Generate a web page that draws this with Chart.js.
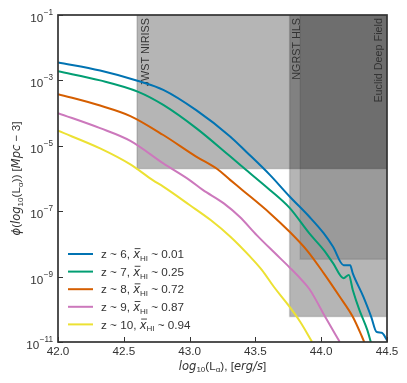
<!DOCTYPE html>
<html>
<head>
<meta charset="utf-8">
<script src="https://cdn.jsdelivr.net/npm/chart.js@4"></script>
<style>
  body { margin: 0; background: #fff; }
  #wrap { width: 407px; height: 383px; position: relative; }
</style>
</head>
<body>
<div id="wrap"><canvas id="c"></canvas></div>
<script>
// log10(L_alpha) grid and log10(phi) for each redshift
const lumZ6 = [42.00, 42.32, 42.61, 42.80, 43.05, 43.31, 43.43, 43.61, 43.76, 43.91, 44.02, 44.09, 44.17, 44.22, 44.24, 44.32, 44.38, 44.42, 44.46, 44.50];
const phiZ6 = [-2.45, -2.70, -3.02, -3.29, -3.91, -4.72, -5.18, -5.89, -6.55, -7.17, -7.68, -8.09, -8.65, -8.65, -8.90, -9.61, -10.23, -10.69, -10.72, -10.94];

const lumZ7 = [42.00, 42.32, 42.61, 42.80, 43.05, 43.31, 43.43, 43.61, 43.76, 43.91, 44.02, 44.09, 44.17, 44.21, 44.24, 44.29, 44.35, 44.38];
const phiZ7 = [-2.72, -3.00, -3.35, -3.75, -4.46, -5.33, -5.74, -6.35, -6.90, -7.68, -8.19, -8.59, -9.05, -8.95, -9.41, -10.02, -10.63, -11.04];

const lumZ8 = [42.00, 42.32, 42.55, 42.80, 43.05, 43.21, 43.31, 43.40, 43.61, 43.76, 43.89, 44.02, 44.14, 44.24, 44.31, 44.33];
const phiZ8 = [-3.42, -3.77, -4.09, -4.67, -5.33, -5.71, -6.05, -6.35, -7.06, -7.63, -8.19, -8.90, -9.61, -10.23, -10.84, -11.03];

const lumZ9 = [42.00, 42.32, 42.55, 42.80, 43.00, 43.10, 43.26, 43.38, 43.51, 43.64, 43.76, 43.84, 43.91, 44.04, 44.14];
const phiZ9 = [-4.00, -4.46, -4.85, -5.54, -6.05, -6.35, -6.76, -7.17, -7.73, -8.25, -8.72, -9.05, -9.38, -10.30, -10.99];

const lumZ10 = [42.00, 42.32, 42.55, 42.72, 42.80, 43.00, 43.16, 43.31, 43.46, 43.55, 43.64, 43.74, 43.84, 43.93];
const phiZ10 = [-4.54, -5.08, -5.57, -6.05, -6.25, -6.81, -7.27, -7.78, -8.39, -8.80, -9.31, -9.82, -10.38, -10.99];

const redshifts = [6, 7, 8, 9, 10];
const neutralFrac = ['0.01', '0.25', '0.72', '0.87', '0.94'];

// survey limits
const surveyNames = ['JWST NIRISS', 'NGRST HLS', 'Euclid Deep Field'];
const surveyLumMin = [42.6, 43.76, 43.84];
const surveyPhiMin = [2e-6, 6e-11, 3.4e-9];
const surveyLabelLum = [42.69, 43.84, 44.46];

const xTicks = [42.0, 42.5, 43.0, 43.5, 44.0, 44.5];
const yTickExp = [-1, -3, -5, -7, -9, -11];

const lineColors = ['#0173b2', '#029e73', '#d55e00', '#cc78bc', '#ece133'];
const shadeFill = ['rgba(0,0,0,0.29)', 'rgba(0,0,0,0.29)', 'rgba(0,0,0,0.15)'];
const shadeEdge = ['rgba(0,0,0,0.14)', 'rgba(0,0,0,0.14)', 'rgba(0,0,0,0.1)'];

const SANS = "'Liberation Sans', Arial, sans-serif";
const MATH = "'DejaVu Sans', sans-serif";

const lums = [lumZ6, lumZ7, lumZ8, lumZ9, lumZ10];
const phis = [phiZ6, phiZ7, phiZ8, phiZ9, phiZ10];

const datasets = redshifts.map((z, i) => ({
  label: 'z ~ ' + z,
  data: lums[i].map((l, j) => ({ x: l, y: Math.pow(10, phis[i][j]) })),
  borderColor: lineColors[i],
  backgroundColor: lineColors[i],
  fill: false
}));

// text with italic / subscript pieces
const rm = (t, s) => ({ t, f: (s || 11.7) + 'px ' + SANS });
const it = (t, s) => ({ t, f: 'italic ' + (s || 11.5) + 'px ' + MATH });
const sub = (t, s) => ({ t, f: (s || 7.8) + 'px ' + SANS, dy: 2.8 });

function richWidth(ctx, parts) {
  let w = 0;
  parts.forEach(p => { ctx.font = p.f; w += ctx.measureText(p.t).width; });
  return w;
}
function drawRich(ctx, parts, x, y) {
  parts.forEach(p => {
    ctx.font = p.f;
    ctx.fillText(p.t, x, y + (p.dy || 0));
    if (p.bar) {
      const w = ctx.measureText(p.t).width;
      ctx.fillRect(x + 1.5, y - 10, w - 1, 0.9);
    }
    x += ctx.measureText(p.t).width;
  });
  return x;
}

const xTitle = [it('log'), sub('10', 8), rm('(L'), sub('α', 8), rm('), ['), it('erg/s'), rm(']')];
const yTitle = [it('ϕ'), rm('('), it('log'), sub('10', 8), rm('(L'), sub('α', 8), rm(')) ['), it('Mpc'), rm(' − 3]')];

const overlay = {
  id: 'overlay',
  beforeDatasetsDraw(chart) {
    const { ctx, chartArea: a, scales: { x, y } } = chart;
    ctx.save();
    ctx.beginPath();
    ctx.rect(a.left, a.top, a.right - a.left, a.bottom - a.top);
    ctx.clip();
    surveyNames.forEach((name, i) => {
      const x0 = x.getPixelForValue(surveyLumMin[i]);
      const x1 = a.right + 5;
      const y0 = a.top - 5;
      const y1 = y.getPixelForValue(surveyPhiMin[i]);
      ctx.fillStyle = shadeFill[i];
      ctx.fillRect(x0, y0, x1 - x0, y1 - y0);
      ctx.strokeStyle = shadeEdge[i];
      ctx.lineWidth = 1.5;
      ctx.strokeRect(x0, y0, x1 - x0, y1 - y0);
    });
    ctx.fillStyle = '#333';
    ctx.font = '10.8px ' + SANS;
    ctx.textAlign = 'right';
    ctx.textBaseline = 'alphabetic';
    surveyNames.forEach((name, i) => {
      ctx.save();
      ctx.translate(x.getPixelForValue(surveyLabelLum[i]), a.top + 3);
      ctx.rotate(-Math.PI / 2);
      ctx.fillText(name, 0, 0);
      ctx.restore();
    });
    ctx.restore();
  },
  afterDraw(chart) {
    const { ctx, chartArea: a, scales: { x, y } } = chart;
    ctx.save();
    // frame
    ctx.strokeStyle = '#333';
    ctx.lineWidth = 1.7;
    ctx.strokeRect(a.left, a.top, a.right - a.left, a.bottom - a.top);
    // inward ticks
    ctx.lineWidth = 1;
    ctx.beginPath();
    x.ticks.forEach(t => {
      const px = Math.round(x.getPixelForValue(t.value)) + 0.5;
      ctx.moveTo(px, a.bottom); ctx.lineTo(px, a.bottom - 5);
    });
    y.ticks.forEach(t => {
      const py = Math.round(y.getPixelForValue(t.value)) + 0.5;
      ctx.moveTo(a.left, py); ctx.lineTo(a.left + 5, py);
    });
    ctx.stroke();

    // y tick labels 10^n
    ctx.fillStyle = '#333';
    ctx.textAlign = 'left';
    ctx.textBaseline = 'alphabetic';
    y.ticks.forEach(t => {
      const py = y.getPixelForValue(t.value);
      const e = Math.round(Math.log10(t.value));
      const ex = '−' + Math.abs(e);
      ctx.font = '8.2px ' + SANS;
      const ew = ctx.measureText(ex).width;
      ctx.font = '11.7px ' + SANS;
      const bw = ctx.measureText('10').width;
      const right = a.left - 5;
      ctx.fillText('10', right - ew - bw - 0.5, py + 7);
      ctx.font = '8.2px ' + SANS;
      ctx.fillText(ex, right - ew, py);
    });

    // axis titles
    const xw = richWidth(ctx, xTitle);
    drawRich(ctx, xTitle, (a.left + a.right) / 2 - xw / 2, a.bottom + 27.5);
    ctx.save();
    ctx.translate(20, (a.top + a.bottom) / 2);
    ctx.rotate(-Math.PI / 2);
    const yw = richWidth(ctx, yTitle);
    drawRich(ctx, yTitle, -yw / 2, 0);
    ctx.restore();

    // legend
    chart.data.datasets.forEach((ds, i) => {
      const cy = a.top + 239 + i * 17.6;
      ctx.strokeStyle = ds.borderColor;
      ctx.lineWidth = 2;
      ctx.beginPath();
      ctx.moveTo(a.left + 10, cy); ctx.lineTo(a.left + 35, cy);
      ctx.stroke();
      ctx.fillStyle = '#333';
      const parts = [rm('z ~ ' + redshifts[i] + ', '), Object.assign(it('x'), { bar: true }), sub('HI', 8), rm(' ~ ' + neutralFrac[i])];
      drawRich(ctx, parts, a.left + 43, cy + 4.2);
    });
    ctx.restore();
  }
};

new Chart(document.getElementById('c'), {
  type: 'line',
  data: { datasets },
  options: {
    responsive: true,
    maintainAspectRatio: false,
    animation: false,
    layout: { padding: { left: 0, top: 15, right: 20, bottom: 0 } },
    plugins: { legend: { display: false }, tooltip: { enabled: false } },
    elements: {
      point: { radius: 0 },
      line: { borderWidth: 2, cubicInterpolationMode: 'monotone' }
    },
    scales: {
      x: {
        type: 'linear', min: 42, max: 44.5,
        grid: { display: false, drawTicks: false }, border: { display: false },
        afterBuildTicks: s => { s.ticks = xTicks.map(v => ({ value: v })); },
        afterFit: s => { s.height = 41; },
        ticks: {
          color: '#333', padding: 3, maxRotation: 0,
          font: { family: SANS, size: 11.7 },
          callback: v => Number(v).toFixed(1)
        }
      },
      y: {
        type: 'logarithmic', min: 1e-11, max: 1e-1,
        grid: { display: false }, border: { display: false },
        afterBuildTicks: s => { s.ticks = yTickExp.map(e => ({ value: Math.pow(10, e) })); },
        afterFit: s => { s.width = 58; },
        ticks: { display: false }
      }
    }
  },
  plugins: [overlay]
});
</script>
</body>
</html>
